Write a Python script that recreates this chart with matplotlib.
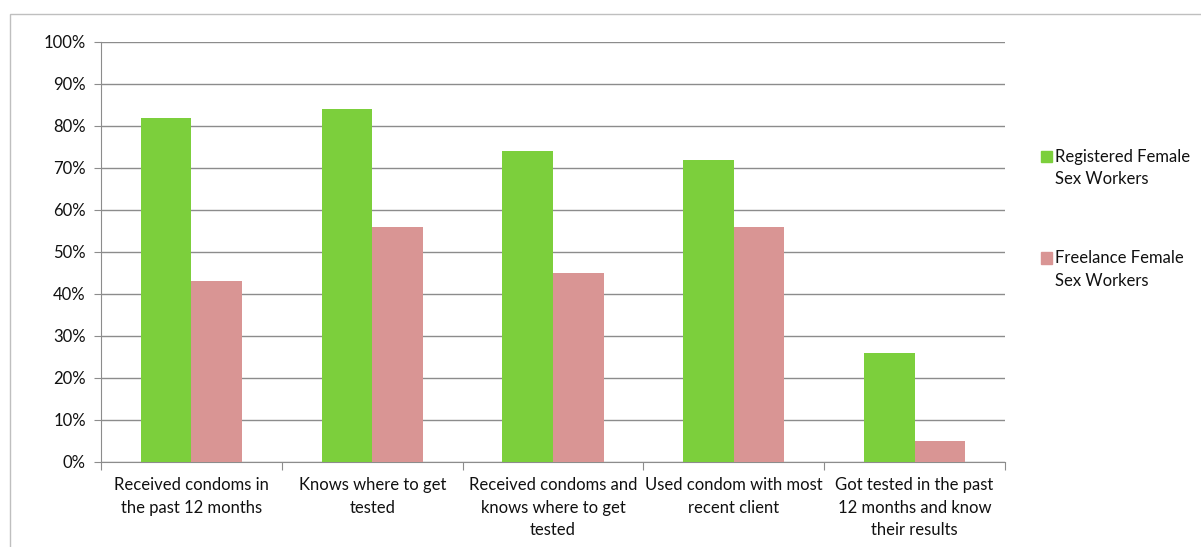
import numpy as np
import matplotlib.pyplot as plt
from matplotlib.patches import Rectangle

# data
categories = ['Received condoms in\nthe past 12 months',
              'Knows where to get\ntested',
              'Received condoms and\nknows where to get\ntested',
              'Used condom with most\nrecent client',
              'Got tested in the past\n12 months and know\ntheir results']
registered = [82, 84, 74, 72, 26]
freelance = [43, 56, 45, 56, 5]
series_names = ['Registered Female\nSex Workers', 'Freelance Female\nSex Workers']
series_colors = ['#7ccf3c', '#d99594']
yticks = list(range(0, 101, 10))

plt.rcParams['font.family'] = ['Lato', 'DejaVu Sans']

W, H = 1201, 547
fig = plt.figure(figsize=(W / 100, H / 100), dpi=100)
# plot area in pixels: x 101..1005, y 42..462
ax = fig.add_axes([101 / W, 1 - 462 / H, (1005 - 101) / W, (462 - 42) / H])

# thin outer chart border
fig.patches.append(Rectangle((10 / W, -0.05), 1.2, 1 - 14 / H + 0.05,
                             transform=fig.transFigure, fill=False,
                             edgecolor='#bfbfbf', lw=1))

x = np.arange(len(categories))
bw = 0.28
ax.bar(x - bw / 2, registered, bw, color=series_colors[0], zorder=3)
ax.bar(x + bw / 2, freelance, bw, color=series_colors[1], zorder=3)

ax.set_xlim(-0.5, len(categories) - 0.5)
ax.set_ylim(0, 100)
ax.set_yticks(yticks)
ax.set_yticklabels(['%d%%' % v for v in yticks], fontsize=12, color='#111111')
ax.yaxis.grid(True, color='#8c8c8c', lw=1, zorder=0)
ax.tick_params(axis='y', length=5, color='#8c8c8c', pad=6)

# category labels centred, ticks on the boundaries
ax.set_xticks(np.arange(len(categories) + 1) - 0.5)
ax.set_xticklabels([''] * (len(categories) + 1))
ax.tick_params(axis='x', length=6, color='#8c8c8c')
ax.set_xticks(x, minor=True)
ax.set_xticklabels(categories, minor=True, fontsize=12, color='#111111', linespacing=1.5)
ax.tick_params(axis='x', which='minor', length=0, pad=11)

for s in ['top', 'right']:
    ax.spines[s].set_visible(False)
for s in ['left', 'bottom']:
    ax.spines[s].set_color('#8c8c8c')

# legend, square aligned with the first text line as in Excel
leg_y = [157, 258]
for name, col, yy in zip(series_names, series_colors, leg_y):
    fig.patches.append(Rectangle((1041 / W, 1 - (yy + 5.5) / H), 11 / W, 11 / H,
                                 transform=fig.transFigure, color=col))
    fig.text(1055 / W, 1 - (yy - 8) / H, name, fontsize=12, color='#111111',
             va='top', ha='left', linespacing=1.5)

fig.savefig('out.png', dpi=100)
